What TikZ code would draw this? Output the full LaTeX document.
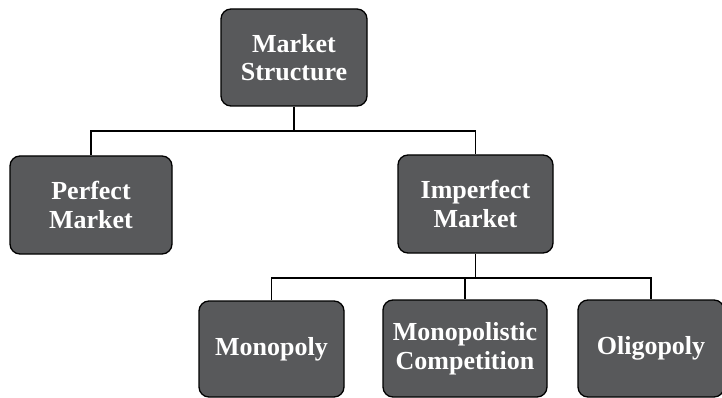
\documentclass[tikz,border=0pt]{standalone}
\usepackage{fontspec}
\setmainfont{Liberation Serif}
\definecolor{boxgray}{HTML}{58595B}
\begin{document}
\begin{tikzpicture}[x=1pt,y=-1pt,
  box/.style={draw=black, line width=1.3pt, fill=boxgray, rounded corners=10pt,
    text=white, font=\bfseries\fontsize{26}{28.5}\selectfont, align=center, inner sep=0pt},
  conn/.style={draw=black, line width=1.3pt}]
\useasboundingbox (0,0) rectangle (722,398);
\node[box, minimum width=146pt, minimum height=97pt] (ms) at (294,57.5) {Market\\Structure};
\node[box, minimum width=162pt, minimum height=98pt] (pm) at (91,205) {Perfect\\Market};
\node[box, minimum width=155pt, minimum height=98pt] (im) at (475.5,204) {Imperfect\\Market};
\node[box, minimum width=145pt, minimum height=96pt] (mo) at (271.5,349) {Monopoly};
\node[box, minimum width=164pt, minimum height=97pt] (mc) at (465,348.5) {Monopolistic\\Competition};
\node[box, minimum width=146pt, minimum height=97pt] (ol) at (651,348.5) {Oligopoly};
\coordinate (j1) at (294,131);
\coordinate (j2) at (475.5,278);
\draw[conn] (ms.south) -- (j1);
\draw[conn] (j1) -| (pm.north);
\draw[conn] (j1) -| (im.north);
\draw[conn] (im.south) -- (j2);
\draw[conn] (j2) -| (mo.north);
\draw[conn] (j2) -| (mc.north);
\draw[conn] (j2) -| (ol.north);
\end{tikzpicture}
\end{document}
